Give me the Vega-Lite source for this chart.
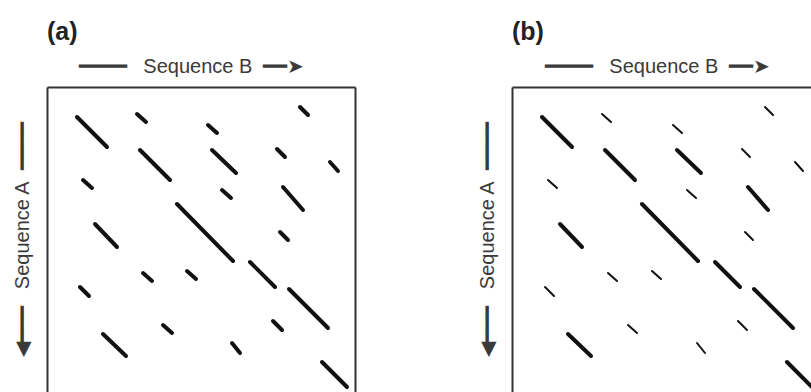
{
  "$schema": "https://vega.github.io/schema/vega-lite/v6.json",
  "padding": {"left": 12, "top": 20, "right": 0, "bottom": 0},
  "background": "white",
  "spacing": 122,
  "config": {
    "view": {"stroke": null},
    "font": "Liberation Sans",
    "axis": {
      "ticks": false, "labels": false, "grid": false,
      "domain": true, "domainColor": "#333", "domainWidth": 2,
      "titleFont": "Liberation Sans", "titleFontSize": 20, "titleFontWeight": "normal", "titleColor": "#3a3a3a"
    },
    "title": {"font": "Liberation Sans", "fontSize": 25, "fontWeight": "bold", "color": "#222", "anchor": "start", "frame": "group", "offset": 11}
  },
  "datasets": {
    "segs": [
      {"bStart": 30, "aStart": 30, "bEnd": 60, "aEnd": 60, "match": "strong"},
      {"bStart": 90, "aStart": 27, "bEnd": 99, "aEnd": 35, "match": "weak"},
      {"bStart": 161, "aStart": 38, "bEnd": 170, "aEnd": 46, "match": "weak"},
      {"bStart": 253, "aStart": 20, "bEnd": 261, "aEnd": 28, "match": "weak"},
      {"bStart": 93, "aStart": 63, "bEnd": 123, "aEnd": 93, "match": "strong"},
      {"bStart": 165, "aStart": 63, "bEnd": 189, "aEnd": 86, "match": "strong"},
      {"bStart": 230, "aStart": 62, "bEnd": 238, "aEnd": 70, "match": "weak"},
      {"bStart": 283, "aStart": 75, "bEnd": 291, "aEnd": 84, "match": "weak"},
      {"bStart": 36, "aStart": 93, "bEnd": 45, "aEnd": 101, "match": "weak"},
      {"bStart": 175, "aStart": 103, "bEnd": 184, "aEnd": 111, "match": "weak"},
      {"bStart": 236, "aStart": 100, "bEnd": 256, "aEnd": 123, "match": "strong"},
      {"bStart": 130, "aStart": 117, "bEnd": 186, "aEnd": 174, "match": "strong"},
      {"bStart": 48, "aStart": 137, "bEnd": 70, "aEnd": 160, "match": "strong"},
      {"bStart": 233, "aStart": 145, "bEnd": 241, "aEnd": 153, "match": "weak"},
      {"bStart": 96, "aStart": 186, "bEnd": 105, "aEnd": 194, "match": "weak"},
      {"bStart": 140, "aStart": 184, "bEnd": 149, "aEnd": 192, "match": "weak"},
      {"bStart": 203, "aStart": 175, "bEnd": 228, "aEnd": 200, "match": "strong"},
      {"bStart": 33, "aStart": 200, "bEnd": 42, "aEnd": 209, "match": "weak"},
      {"bStart": 242, "aStart": 202, "bEnd": 281, "aEnd": 241, "match": "strong"},
      {"bStart": 116, "aStart": 238, "bEnd": 125, "aEnd": 246, "match": "weak"},
      {"bStart": 226, "aStart": 234, "bEnd": 235, "aEnd": 243, "match": "weak"},
      {"bStart": 56, "aStart": 247, "bEnd": 79, "aEnd": 269, "match": "strong"},
      {"bStart": 185, "aStart": 256, "bEnd": 193, "aEnd": 266, "match": "weak"},
      {"bStart": 275, "aStart": 275, "bEnd": 300, "aEnd": 300, "match": "strong"}
    ]
  },
  "hconcat": [
    {
      "title": "(a)",
      "width": 308,
      "height": 305,
      "data": {"name": "segs"},
      "layer": [
        {
          "mark": {"type": "rule", "strokeWidth": 4, "strokeCap": "round", "color": "#111"},
          "encoding": {
            "x": {"field": "bStart", "type": "quantitative", "scale": {"domain": [0, 308], "nice": false, "zero": false},
                  "axis": {"orient": "top", "title": "━━━━\u00a0\u00a0\u00a0Sequence B\u00a0\u00a0━━➤", "titlePadding": 11, "titleX": 144}},
            "x2": {"field": "bEnd"},
            "y": {"field": "aStart", "type": "quantitative", "scale": {"domain": [0, 305], "reverse": true, "nice": false, "zero": false},
                  "axis": {"orient": "left", "title": "◀━━━\u00a0\u00a0\u00a0Sequence A\u00a0\u00a0━━━━", "titlePadding": 15, "titleY": 152}},
            "y2": {"field": "aEnd"}
          }
        },
        {
          "mark": {"type": "rule", "opacity": 0},
          "encoding": {
            "y": {"field": "aStart", "type": "quantitative", "axis": {"orient": "right", "title": null}}
          }
        }
      ],
      "resolve": {"axis": {"y": "independent"}}
    },
    {
      "title": "(b)",
      "width": 299,
      "height": 305,
      "data": {"name": "segs"},
      "mark": {"type": "rule", "strokeCap": "round", "color": "#111", "clip": true},
      "encoding": {
        "x": {"field": "bStart", "type": "quantitative", "scale": {"domain": [0, 299], "nice": false, "zero": false},
              "axis": {"orient": "top", "title": "━━━━\u00a0\u00a0\u00a0Sequence B\u00a0\u00a0━━➤", "titlePadding": 11, "titleX": 145}},
        "x2": {"field": "bEnd"},
        "y": {"field": "aStart", "type": "quantitative", "scale": {"domain": [0, 305], "reverse": true, "nice": false, "zero": false},
              "axis": {"orient": "left", "title": "◀━━━\u00a0\u00a0\u00a0Sequence A\u00a0\u00a0━━━━", "titlePadding": 15, "titleY": 152}},
        "y2": {"field": "aEnd"},
        "strokeWidth": {"field": "match", "type": "ordinal", "scale": {"domain": ["strong", "weak"], "range": [4, 2]}, "legend": null}
      }
    }
  ]
}
